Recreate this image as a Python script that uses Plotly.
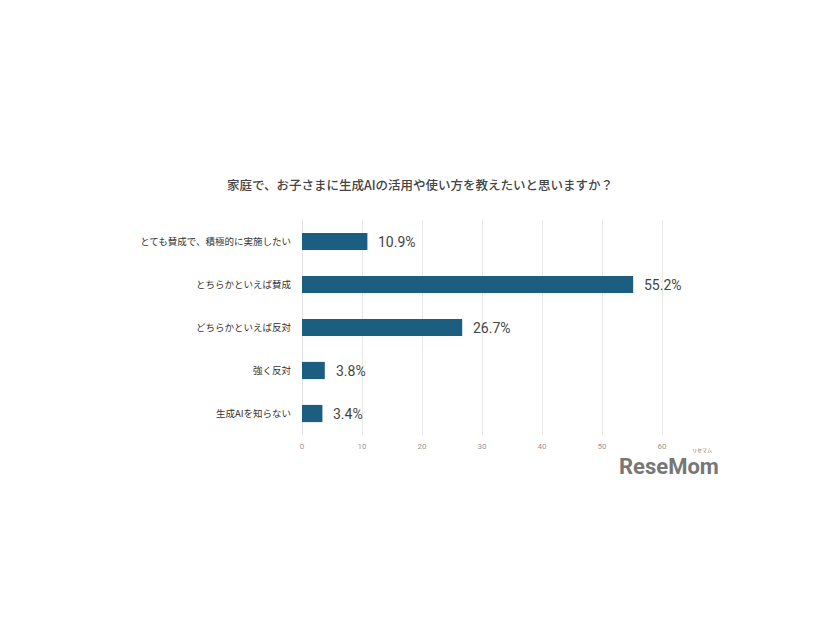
import plotly.graph_objects as go

categories = ["とても賛成で、積極的に実施したい", "とちらかといえば賛成", "どちらかといえば反対", "強く反対", "生成AIを知らない"]
values = [10.9, 55.2, 26.7, 3.8, 3.4]
labels = ["10.9%", "55.2%", "26.7%", "3.8%", "3.4%"]
tick_vals = [0, 10, 20, 30, 40, 50, 60]
title = "家庭で、お子さまに生成AIの活用や使い方を教えたいと思いますか？"

W, H = 818, 612
L, R, T, B = 294, 146, 212, 184.5
pw, ph = W - L - R, H - T - B

def px(x):
    return (x - 8 - L) / pw

def py(y):
    return 1 - (y - 8 - T) / ph

fig = go.Figure()
fig.add_trace(go.Bar(
    x=values, y=categories, orientation="h",
    marker=dict(color="#1b5e80", line=dict(width=0)),
    width=0.4, hoverinfo="skip",
))
for v, c, t in zip(values, categories, labels):
    fig.add_annotation(x=v, y=c, text=t, xanchor="left", yanchor="middle",
                       xshift=9, showarrow=False,
                       font=dict(family="Roboto, Noto Sans CJK JP", size=14, color="#444444"))

fig.update_layout(
    width=W, height=H,
    margin=dict(l=L, r=R, t=T, b=B),
    paper_bgcolor="white", plot_bgcolor="white",
    showlegend=False,
    title=dict(text=title, x=(420 - 8) / W, xanchor="center", y=1 - (186 - 8) / H, yanchor="middle",
               font=dict(family="Noto Sans CJK JP", size=12.5, color="#444444", weight=500)),
    font=dict(family="Noto Sans CJK JP"),
)
fig.update_xaxes(range=[0, 63], tickvals=tick_vals, showgrid=True, gridcolor="#e8e8e8",
                 gridwidth=1, zeroline=True, zerolinecolor="#e0e0e0", zerolinewidth=1,
                 tickfont=dict(family="Roboto", size=8, color="#999999"),
                 ticklabelstandoff=5,
                 showline=False, fixedrange=True)
fig.update_yaxes(autorange="reversed", showgrid=False, showline=False,
                 ticklabelstandoff=10,
                 tickfont=dict(family="Noto Sans CJK JP", size=9.5, color="#333333"))

fig.add_annotation(x=px(721), y=py(467), xref="paper", yref="paper",
                   text="<b>ReseMom</b>", showarrow=False, xanchor="right", yanchor="middle",
                   font=dict(family="Roboto", size=22, color="#777777"))
fig.add_annotation(x=px(702), y=py(451), xref="paper", yref="paper",
                   text="リセマム", showarrow=False, xanchor="center", yanchor="middle",
                   font=dict(family="Noto Sans CJK JP", size=5, color="#777777"))

fig.write_html("out.html")
